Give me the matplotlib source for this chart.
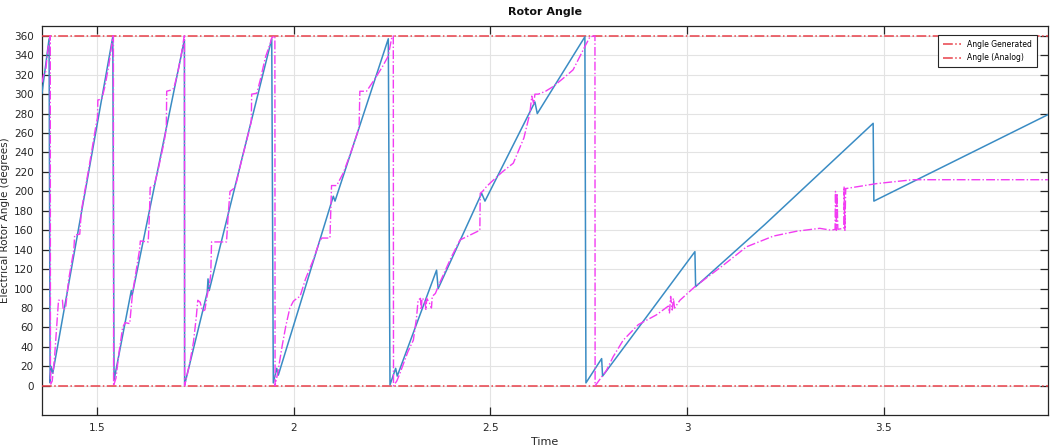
import matplotlib
matplotlib.use("Agg")
import matplotlib.pyplot as plt

# ------------------------------------------------------------
# Data (time in s, angle in degrees)
# ------------------------------------------------------------
gen_t = [1.360, 1.378, 1.3806, 1.3831, 1.3874, 1.5399, 1.5432, 1.587, 1.589,
         1.7220, 1.7225, 1.780, 1.782, 1.785, 1.944, 1.948, 1.9567, 1.9607,
         2.1005, 2.1048, 2.2403, 2.2446, 2.259, 2.263, 2.363, 2.367, 2.4776,
         2.486, 2.613, 2.619, 2.740, 2.7427, 2.7826, 2.785, 3.0197, 3.0215,
         3.1976, 3.4728, 3.4746, 3.9175]
gen_deg = [301, 357, 3, 20, 13, 359, 6, 98, 93,
           356, 1, 96, 110, 98, 357, 3, 18, 11,
           195, 190, 357, 1, 18, 10, 119, 100, 198,
           190, 292, 280, 359, 3, 28, 10, 138, 102,
           166, 270, 190, 279]

analog_t = [
    # wrap 1
    1.360, 1.364, 1.369, 1.372, 1.376, 1.380, 1.381, 1.3815,
    1.386, 1.392, 1.398, 1.402, 1.412, 1.414, 1.420, 1.428, 1.441, 1.443,
    1.456, 1.460, 1.480, 1.496, 1.501, 1.502, 1.512, 1.520, 1.530, 1.537,
    1.540, 1.5415, 1.542,
    # wrap 2
    1.548, 1.556, 1.565, 1.571, 1.583, 1.590, 1.600, 1.608, 1.610, 1.630,
    1.633, 1.635, 1.645, 1.655, 1.670, 1.676, 1.677, 1.686, 1.695, 1.705,
    1.715, 1.720, 1.7215, 1.7222, 1.7225,
    # wrap 3
    1.735, 1.745, 1.752, 1.756, 1.762, 1.768, 1.774, 1.780, 1.786, 1.789,
    1.791, 1.829, 1.834, 1.838, 1.851, 1.865, 1.880, 1.892, 1.893, 1.906,
    1.915, 1.928, 1.940, 1.944, 1.952, 1.9525,
    # wrap 4
    1.960, 1.970, 1.980, 1.990, 1.999, 2.008, 2.016, 2.030, 2.050, 2.065,
    2.071, 2.092, 2.096, 2.109, 2.126, 2.145, 2.160, 2.166, 2.168, 2.185,
    2.205, 2.225, 2.240, 2.249, 2.253, 2.2535,
    # wrap 5
    2.262, 2.270, 2.290, 2.304, 2.312, 2.316, 2.322, 2.324, 2.326, 2.333,
    2.336, 2.338, 2.345, 2.350, 2.352, 2.360, 2.370, 2.400, 2.4225, 2.473,
    2.474, 2.480, 2.490, 2.503, 2.530, 2.558, 2.585, 2.600, 2.605, 2.610,
    2.613, 2.6215, 2.640, 2.660, 2.690, 2.710, 2.740, 2.753, 2.7656, 2.766,
    # wrap 6
    2.795, 2.812, 2.8375, 2.876, 2.922, 2.952, 2.955, 2.958, 2.962, 2.965,
    2.968, 2.9816, 3.0197, 3.0916, 3.151, 3.219, 3.278, 3.337, 3.367, 3.376,
    3.377, 3.379, 3.381, 3.383, 3.398, 3.399, 3.401, 3.403, 3.405, 3.4814,
    3.5737, 3.9175,
]
analog_deg = [
    312, 320, 322, 335, 349, 352, 360, 1,
    5, 30, 65, 88, 88, 78, 80, 110, 140, 155,
    156, 180, 226, 265, 276, 294, 295, 308, 330, 350,
    360, 360, 0,
    8, 35, 60, 65, 64, 95, 120, 140, 149, 148,
    175, 204, 206, 222, 250, 265, 303, 304, 306, 322,
    343, 356, 360, 360, 0,
    22, 45, 70, 88, 86, 77, 78, 93, 105, 115,
    148, 148, 180, 200, 204, 228, 252, 272, 300, 301,
    315, 338, 352, 358, 360, 0,
    15, 40, 62, 80, 87, 90, 92, 110, 130, 148,
    152, 152, 206, 206, 219, 240, 258, 266, 303, 303,
    315, 328, 339, 358, 360, 0,
    5, 13, 35, 47, 70, 88, 90, 78, 90, 88,
    78, 90, 85, 80, 92, 95, 105, 132, 150, 160,
    198, 200, 205, 210, 220, 229, 255, 280, 298, 290,
    300, 300, 303, 308, 318, 325, 349, 359, 360, 0,
    16, 30, 47, 63, 73, 82, 75, 92, 78, 90,
    80, 88, 102, 124, 143, 154, 159, 162, 160, 161,
    200, 160, 198, 161, 162, 205, 160, 203, 203, 208,
    212, 212,
]

limits = [0, 360]
legend_labels = ["Angle Generated", "Angle (Analog)"]
y_ticks = list(range(0, 361, 20))
x_ticks = [1.5, 2, 2.5, 3, 3.5]
x_tick_labels = ["1.5", "2", "2.5", "3", "3.5"]

# ------------------------------------------------------------
# Plot
# ------------------------------------------------------------
TXT = "#262626"
fig = plt.figure(figsize=(10.5, 4.48), dpi=100)
ax = fig.add_axes([0.04, 0.0737, 0.958, 0.868])

for lim, lab in zip(limits, legend_labels):
    ax.axhline(lim, color="#e8414a", lw=1.1, ls="-.", label=lab, zorder=3)

ax.plot(gen_t, gen_deg, color="#3a8cc4", lw=1.1, zorder=4)
ax.plot(analog_t, analog_deg, color="#f23cf2", lw=1.0, ls="-.", zorder=5)

ax.set_xlim(1.36, 3.917)
ax.set_ylim(-30, 370)
ax.set_xticks(x_ticks)
ax.set_xticklabels(x_tick_labels)
ax.set_yticks(y_ticks)

ax.grid(True, color="#e3e3e3", lw=0.8)
ax.set_axisbelow(True)
ax.tick_params(direction="in", length=6, width=0.9, colors=TXT,
               labelsize=7.5, top=True, right=True, pad=6)
for sp in ax.spines.values():
    sp.set_color(TXT)
    sp.set_linewidth(0.9)

ax.set_title("Rotor Angle", fontsize=8, fontweight="bold", color="#111111", pad=8)
ax.set_xlabel("Time", fontsize=8, color=TXT, labelpad=3)
ax.set_ylabel("Electrical Rotor Angle (degrees)", fontsize=7.5, color=TXT)
ax.yaxis.set_label_coords(-0.032, 0.5)

leg = ax.legend(loc="upper right", bbox_to_anchor=(0.989, 0.977), borderaxespad=0,
                fontsize=5.5, fancybox=False, framealpha=1, handlelength=2.4,
                borderpad=0.6, labelspacing=0.6)
leg.get_frame().set_edgecolor(TXT)
leg.get_frame().set_linewidth(0.8)

fig.savefig("out.png", dpi=100)
